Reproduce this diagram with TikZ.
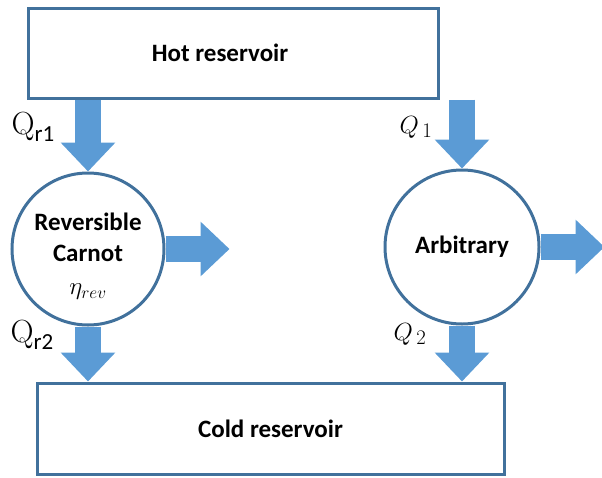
\documentclass[tikz,border=0pt]{standalone}
\usepackage{fontspec}
\setsansfont{Carlito}
\usetikzlibrary{arrows.meta, positioning, calc}
\definecolor{edgeblue}{HTML}{41719C}
\definecolor{flowblue}{HTML}{5B9BD5}

\begin{document}
\begin{tikzpicture}[
    x=1pt, y=-1pt,
    reservoir/.style={draw=edgeblue, line width=3pt, align=center, font=\sffamily\bfseries\fontsize{25}{28}\selectfont},
    engine/.style={circle, draw=edgeblue, line width=3pt, align=center, inner sep=0pt, font=\sffamily\bfseries\fontsize{25}{31}\selectfont},
    flow/.style={draw=flowblue, line width=26pt, -{Triangle[length=29pt, width=53pt]}},
    qlabel/.style={font=\fontsize{32}{34}\selectfont}
]
\useasboundingbox (0,0) rectangle (602,477);

\node[reservoir, minimum width=410pt, minimum height=90pt] (hot) at (233,53) {Hot reservoir\hspace*{26pt}};
\node[reservoir, minimum width=467pt, minimum height=91pt] (cold) at (270.5,428.5) {Cold reservoir};
\node[engine, minimum size=152pt] (carnot) at (88,249) {};
\node[align=center, font=\sffamily\bfseries\fontsize{25}{31}\selectfont] (carnottext) at ($(carnot.center)+(0,7)$)
  {Reversible\\Carnot\\[2pt]{\normalfont\fontsize{26}{28}\selectfont$\eta_{rev}$}};
\node[engine, minimum size=154pt] (arb) at (462,247) {Arbitrary};

\coordinate (wl) at ($(carnot.east)+(64,0)$);
\coordinate (wa) at ($(arb.east)+(64,0)$);

% heat flows
\draw[flow] (hot.south -| carnot.north) -- (carnot.north);
\draw[flow] (hot.south -| arb.north) -- (arb.north);
\draw[flow] (carnot.south) -- (carnot.south |- cold.north);
\draw[flow] (arb.south) -- (arb.south |- cold.north);
% work out
\draw[flow] (carnot.east) -- (wl);
\draw[flow] (arb.east) -- (wa);

\node[qlabel] (qr1) at (33,127) {Q\raisebox{-7pt}{\sffamily\fontsize{23}{24}\selectfont r1}};
\node[qlabel] (qr2) at (32,335) {Q\raisebox{-7pt}{\sffamily\fontsize{23}{24}\selectfont r2}};
\node[qlabel] (q1) at (416,127) {$Q_{\,1}$};
\node[qlabel] (q2) at (410,334) {$Q_{\,2}$};
\end{tikzpicture}
\end{document}
